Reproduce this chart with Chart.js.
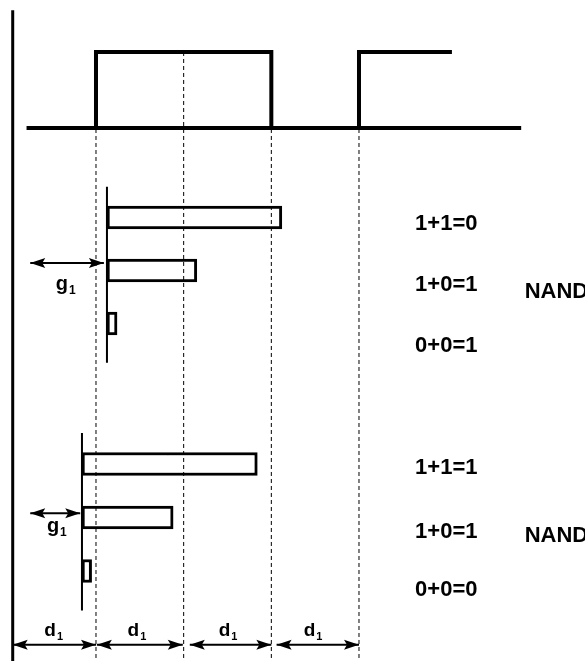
<!DOCTYPE html>
<html>
<head>
<meta charset="utf-8">
<script src="https://cdn.jsdelivr.net/npm/chart.js@4.4.0/dist/chart.umd.min.js"></script>
<style>
  html, body { margin: 0; padding: 0; background: #fff; }
  #wrap { width: 585px; height: 661px; }
</style>
</head>
<body>
<div id="wrap"><canvas id="timing"></canvas></div>
<script>
// time is measured in units of d1, 0 = first rising edge of the input
const timeMarks = [0, 1, 2, 3];
const signalTimes = [-0.79, 0, 2, 3, 4.06];
const signalLevels = [0, 1, 0, 1, 1];
const railEnds = [-0.79, 4.85];
const frameX = -0.95;

// two gates, three input cases each (rows 1..3 on their own axis)
const gateStart = [0.125, -0.16];
const pulseEndTop = [2.12, 1.15, 0.24];
const pulseEndBot = [1.84, 0.88, -0.05];
const innerMarkTop = 1.095;
const innerMarkBot = 0.82;
const caseRows = [1, 2, 3];
const eqTop = ['1+1=0', '1+0=1', '0+0=1'];
const eqBot = ['1+1=1', '1+0=1', '0+0=0'];
const gateName = 'NAND';

// delay spans along the bottom
const dSpans = [[-0.95, 0], [0.01, 0.99], [1.07, 2.0], [2.06, 3.0]];
const gSpanTop = [-0.75, 0.09];
const gSpanBot = [-0.75, -0.18];

const black = '#000';

function vline(x, y0, y1, yAxisID, extra) {
    return Object.assign({
        type: 'line',
        yAxisID: yAxisID,
        data: [{ x: x, y: y0 }, { x: x, y: y1 }],
        borderColor: black,
        borderWidth: 2,
        pointRadius: 0
    }, extra || {});
}

function hline(x0, x1, y, yAxisID, extra) {
    return Object.assign({
        type: 'line',
        yAxisID: yAxisID,
        data: [{ x: x0, y: y }, { x: x1, y: y }],
        borderColor: black,
        borderWidth: 2,
        pointRadius: 0
    }, extra || {});
}

const datasets = [];

// frame line on the left
datasets.push(vline(frameX, 1.55, -7.2, 'ySig', { borderWidth: 3 }));

// dashed time marks
timeMarks.forEach(t => {
    datasets.push(vline(t, 1, -7.2, 'ySig', { borderWidth: 1, borderDash: [4, 3] }));
});

// input rail and square wave
datasets.push(hline(railEnds[0], railEnds[1], 0, 'ySig', { borderWidth: 4 }));
datasets.push({
    type: 'line',
    yAxisID: 'ySig',
    data: signalTimes.map((t, i) => ({ x: t, y: signalLevels[i] })),
    stepped: 'before',
    borderColor: black,
    borderWidth: 4,
    borderJoinStyle: 'miter',
    pointRadius: 0
});

// gate reference lines
datasets.push(vline(gateStart[0], 0.42, 3.74, 'yTop'));
datasets.push(vline(gateStart[1], 0.42, 3.74, 'yBot'));

// output pulses
datasets.push({
    type: 'bar',
    indexAxis: 'y',
    yAxisID: 'yTop',
    grouped: false,
    data: caseRows.map((r, i) => ({ x: [gateStart[0], pulseEndTop[i]], y: r })),
    backgroundColor: '#fff',
    borderColor: black,
    borderWidth: 3,
    borderSkipped: false,
    barThickness: 23
});
datasets.push({
    type: 'bar',
    indexAxis: 'y',
    yAxisID: 'yBot',
    grouped: false,
    data: caseRows.map((r, i) => ({ x: [gateStart[1], pulseEndBot[i]], y: r })),
    backgroundColor: '#fff',
    borderColor: black,
    borderWidth: 3,
    borderSkipped: false,
    barThickness: 23
});

// faint marks inside the long pulses
datasets.push(vline(innerMarkTop, 0.8, 1.2, 'yTop', { borderWidth: 1, borderDash: [3, 2] }));
datasets.push(vline(innerMarkBot, 0.8, 1.2, 'yBot', { borderWidth: 1, borderDash: [3, 2] }));

// g1 and d1 arrows
datasets.push(hline(gSpanTop[0], gSpanTop[1], 1.86, 'yTop', { arrowHeads: true }));
datasets.push(hline(gSpanBot[0], gSpanBot[1], 1.92, 'yBot', { arrowHeads: true }));
dSpans.forEach(s => {
    datasets.push(hline(s[0], s[1], 4.38, 'yBot', { arrowHeads: true }));
});

function drawHead(ctx, tip, from) {
    const ang = Math.atan2(tip.y - from.y, tip.x - from.x);
    ctx.save();
    ctx.translate(tip.x, tip.y);
    ctx.rotate(ang);
    ctx.beginPath();
    ctx.moveTo(0, 0);
    ctx.lineTo(-15, -5);
    ctx.lineTo(-12, 0);
    ctx.lineTo(-15, 5);
    ctx.closePath();
    ctx.fillStyle = black;
    ctx.fill();
    ctx.restore();
}

const arrowHeads = {
    id: 'arrowHeads',
    afterDatasetsDraw(chart) {
        const ctx = chart.ctx;
        chart.data.datasets.forEach((ds, i) => {
            if (!ds.arrowHeads) return;
            const pts = chart.getDatasetMeta(i).data;
            const a = pts[0], b = pts[pts.length - 1];
            drawHead(ctx, a, b);
            drawHead(ctx, b, a);
        });
    }
};

// text placed with the chart's own scales
const labels = [];
eqTop.forEach((t, i) => labels.push({ text: t, x: 3.64, y: [1.245, 2.396, 3.547][i], axis: 'yTop', size: 22 }));
eqBot.forEach((t, i) => labels.push({ text: t, x: 3.64, y: [1.178, 2.374, 3.458][i], axis: 'yBot', size: 22 }));
labels.push({ text: gateName, x: 4.89, y: 2.528, axis: 'yTop', size: 22 });
labels.push({ text: gateName, x: 4.89, y: 2.467, axis: 'yBot', size: 22 });
labels.push({ text: 'g', sub: '1', x: -0.46, y: 2.36, axis: 'yTop', size: 20 });
labels.push({ text: 'g', sub: '1', x: -0.56, y: 2.27, axis: 'yBot', size: 20 });
[-0.59, 0.36, 1.40, 2.37].forEach(x => {
    labels.push({ text: 'd', sub: '1', x: x, y: 4.215, axis: 'yBot', size: 19 });
});

const textLabels = {
    id: 'textLabels',
    afterDraw(chart) {
        const ctx = chart.ctx;
        ctx.save();
        ctx.fillStyle = black;
        ctx.textBaseline = 'alphabetic';
        ctx.textAlign = 'left';
        labels.forEach(l => {
            const px = chart.scales.x.getPixelForValue(l.x);
            const py = chart.scales[l.axis].getPixelForValue(l.y);
            ctx.font = 'bold ' + l.size + 'px "Liberation Sans", Arial, sans-serif';
            ctx.fillText(l.text, px, py);
            if (l.sub) {
                const w = ctx.measureText(l.text).width;
                ctx.font = 'bold ' + Math.round(l.size * 0.6) + 'px "Liberation Sans", Arial, sans-serif';
                ctx.fillText(l.sub, px + w + 1, py + 4);
            }
        });
        ctx.restore();
    }
};

new Chart(document.getElementById('timing'), {
    type: 'line',
    data: { datasets: datasets },
    plugins: [arrowHeads, textLabels],
    options: {
        responsive: true,
        maintainAspectRatio: false,
        animation: false,
        layout: { padding: 0 },
        plugins: {
            legend: { display: false },
            tooltip: { enabled: false }
        },
        scales: {
            x: { type: 'linear', min: -1.095, max: 5.578, offset: false, display: false },
            ySig: { axis: 'y', type: 'linear', min: -7.013, max: 1.684, offset: false, display: false },
            yTop: { axis: 'y', type: 'linear', reverse: true, min: -3.104, max: 9.368, offset: false, display: false },
            yBot: { axis: 'y', type: 'linear', reverse: true, min: -7.673, max: 4.682, offset: false, display: false }
        }
    }
});
</script>
</body>
</html>
